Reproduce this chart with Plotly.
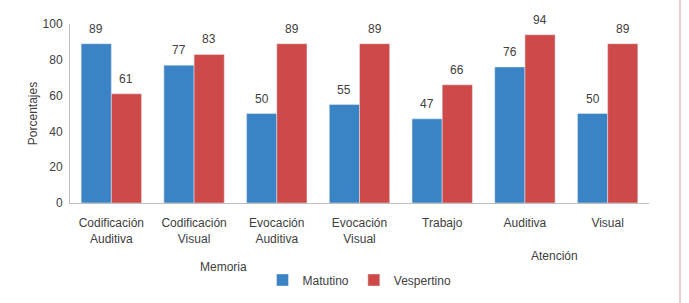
import plotly.graph_objects as go

categories = ["Codificación<br>Auditiva", "Codificación<br>Visual", "Evocación<br>Auditiva",
              "Evocación<br>Visual", "Trabajo", "Auditiva", "Visual"]
matutino = [89, 77, 50, 55, 47, 76, 50]
vespertino = [61, 83, 89, 89, 66, 94, 89]
y_ticks = [0, 20, 40, 60, 80, 100]

font_family = "Liberation Sans, Arial, sans-serif"
txt_color = "#404040"
bargap = 0.27
half = (1 - bargap) / 4  # offset of each bar centre from the group centre

xpos = list(range(len(categories)))

fig = go.Figure()
fig.add_trace(go.Bar(name="Matutino", x=xpos, y=matutino, marker_color="#3A83C5"))
fig.add_trace(go.Bar(name="Vespertino", x=xpos, y=vespertino, marker_color="#CE4A48"))

annotations = []
for i, (m, v) in enumerate(zip(matutino, vespertino)):
    for xv, val in ((i - half, m), (i + half, v)):
        annotations.append(dict(text=str(val), x=xv, y=val, xref="x", yref="y", showarrow=False,
                                yanchor="bottom", yshift=6, font=dict(size=12, color=txt_color)))

annotations += [
    dict(text="Memoria", xref="paper", yref="paper", x=(223 - 70) / 579, y=(203 - 267) / 179,
         showarrow=False, font=dict(size=12, color=txt_color), xanchor="center", yanchor="middle"),
    dict(text="Atención", xref="paper", yref="paper", x=(554 - 70) / 579, y=(203 - 256) / 179,
         showarrow=False, font=dict(size=12, color=txt_color), xanchor="center", yanchor="middle"),
]

fig.update_layout(
    width=689, height=303,
    margin=dict(l=70, r=40, t=24, b=100, autoexpand=False),
    barmode="group", bargap=bargap, bargroupgap=0,
    plot_bgcolor="white", paper_bgcolor="white",
    font=dict(family=font_family, size=12, color=txt_color),
    legend=dict(orientation="h", x=0.5, xanchor="center", y=(203 - 280) / 179, yanchor="middle",
                font=dict(size=12, color=txt_color), itemwidth=30),
    xaxis=dict(showline=True, linecolor="#BFBFBF", linewidth=1, ticks="outside", ticklen=9,
               tickcolor="rgba(0,0,0,0)", tickvals=xpos, ticktext=categories,
               range=[-0.5, len(categories) - 0.5], automargin=False,
               tickfont=dict(size=12, color=txt_color)),
    yaxis=dict(range=[0, 100], tickvals=y_ticks, showgrid=False, zeroline=False,
               showline=True, linecolor="#BFBFBF", linewidth=1, ticks="outside", ticklen=4,
               tickcolor="rgba(0,0,0,0)", automargin=False,
               tickfont=dict(size=12, color=txt_color),
               title=dict(text="Porcentajes", font=dict(size=12, color=txt_color), standoff=2)),
    annotations=annotations,
    shapes=[dict(type="line", xref="paper", yref="paper", x0=(680 - 70) / 579, x1=(680 - 70) / 579,
                 y0=-100 / 179, y1=203 / 179, line=dict(color="#D9A0A0", width=1))],
)

fig.write_html("out.html")
